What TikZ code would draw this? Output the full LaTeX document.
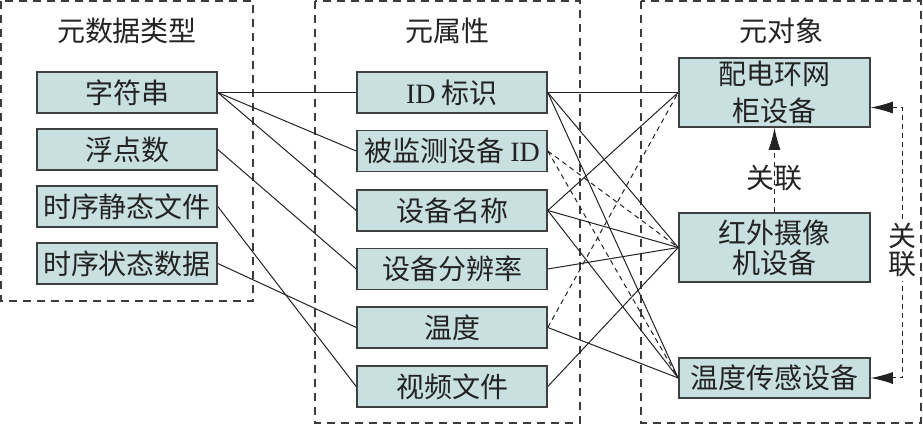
\documentclass[tikz,border=0pt]{standalone}
\usepackage{fontspec}
\setmainfont{Noto Sans CJK SC}
\newfontfamily\latinfont{Liberation Serif}
\usetikzlibrary{arrows.meta}
\definecolor{boxfill}{RGB}{200,224,223}
\definecolor{boxline}{RGB}{64,64,64}
\definecolor{groupline}{RGB}{60,60,60}
\definecolor{inkgray}{RGB}{35,35,35}

\begin{document}
\begin{tikzpicture}[x=0.5pt,y=-0.5pt,text=inkgray]

%
% Styles
%
\tikzstyle{group} = [draw=groupline,line width=0.7pt,dash pattern=on 4pt off 3pt]
\tikzstyle{title} = [font=\fontsize{14}{14}\selectfont]
\tikzstyle{item}  = [draw=boxline,fill=boxfill,line width=0.8pt,inner sep=0pt,
                     align=center,font=\fontsize{14}{15}\selectfont]
\tikzstyle{link}  = [draw=inkgray,line width=0.5pt]
\tikzstyle{weak}  = [link,dash pattern=on 2.5pt off 2pt]
\tikzstyle{assoc} = [weak,>={Latex[length=11pt,width=6pt]}]

\useasboundingbox (0,0) rectangle (923,426);

% groups
\draw[group] (1,1) rectangle (253,301);
\draw[group] (315,1) rectangle (580,423);
\draw[group] (641,1) rectangle (921,423);

\node[title] (ttype) at (127,31) {元数据类型};
\node[title] (tattr) at (447,31) {元属性};
\node[title] (tobj)  at (781,31) {元对象};

% data types
\node[item,minimum width=90pt,minimum height=20.5pt] (str)   at (127,92.5)  {字符串};
\node[item,minimum width=90pt,minimum height=20.5pt] (flt)   at (127,149.5) {浮点数};
\node[item,minimum width=90pt,minimum height=20.5pt] (sfile) at (127,206.5) {时序静态文件};
\node[item,minimum width=90pt,minimum height=20.5pt] (sdata) at (127,263.5) {时序状态数据};

% attributes
\node[item,minimum width=95pt,minimum height=20.5pt] (id)    at (452,92.5)  {{\latinfont ID} 标识};
\node[item,minimum width=95pt,minimum height=20.5pt] (mon)   at (452,151)   {被监测设备 {\latinfont ID}};
\node[item,minimum width=95pt,minimum height=20.5pt] (name)  at (452,210.5) {设备名称};
\node[item,minimum width=95pt,minimum height=20.5pt] (res)   at (452,269)   {设备分辨率};
\node[item,minimum width=95pt,minimum height=20.5pt] (temp)  at (452,327.5) {温度};
\node[item,minimum width=95pt,minimum height=20.5pt] (video) at (452,386.5) {视频文件};

% objects
\node[item,minimum width=95.5pt,minimum height=34.5pt] (pd) at (774.5,92.5)  {配电环网\\[3.5pt]柜设备};
\node[item,minimum width=95.5pt,minimum height=34.5pt] (ir) at (774.5,247.5) {红外摄像\\机设备};
\node[item,minimum width=95.5pt,minimum height=20pt]   (ts) at (774.5,378)   {温度传感设备};

% types -> attributes
\draw[link] (str.east) -- (id.west);
\draw[link] (str.east) -- (mon.west);
\draw[link] (str.east) -- (name.west);
\draw[link] (flt.east) -- (res.west);
\draw[link] (sfile.east) -- (video.west);
\draw[link] (sdata.east) -- (temp.west);

% attributes -> objects
\draw[link] (id.east) -- (pd.west);
\draw[link] (id.east) -- (ir.west);
\draw[link] (id.east) -- (ts.west);
\draw[weak] (mon.east) -- (ir.west);
\draw[weak] (mon.east) -- (ts.west);
\draw[link] (name.east) -- (pd.west);
\draw[link] (name.east) -- (ir.west);
\draw[link] (name.east) -- (ts.west);
\draw[link] (res.east) -- (ir.west);
\draw[weak] (temp.east) -- (pd.west);
\draw[link] (temp.east) -- (ts.west);
\draw[link] (video.east) -- (ir.west);

% associations
\draw[assoc,->] (ir.north) -- node[pos=0.41,title] (rel1) {关联} (pd.south);
\draw[assoc,<->] ([yshift=-7.5pt]pd.east) -- ++(32,0) |- (ts.east);
\node[title,fill=white,align=center,inner sep=2pt,font=\fontsize{14}{14}\selectfont] (rel2) at (902,250) {关\\联};

\end{tikzpicture}
\end{document}
